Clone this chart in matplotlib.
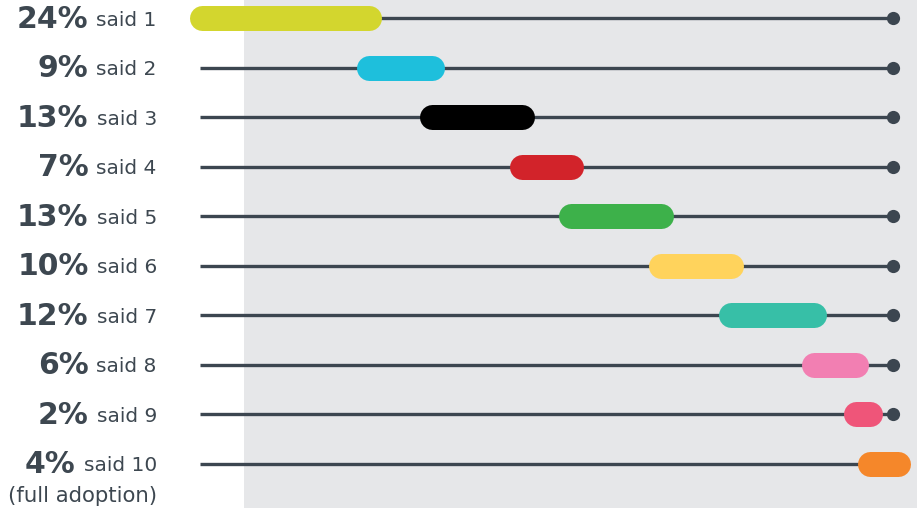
import matplotlib
matplotlib.use("Agg")
import matplotlib.pyplot as plt

# ---- data ----
categories = ["said 1", "said 2", "said 3", "said 4", "said 5",
              "said 6", "said 7", "said 8", "said 9", "said 10"]
percents = [24, 9, 13, 7, 13, 10, 12, 6, 2, 4]
colors = ["#d3d62e", "#1ebfdc", "#000000", "#d2232a", "#3db14a",
          "#ffd35c", "#37bfa7", "#f27fb2", "#ef5579", "#f5872a"]
sub_label = "(full adoption)"

TEXT = "#3d4750"
LINE = "#3c4650"
BG = "#e6e7e9"

W, H, DPI = 917, 508, 100
fig = plt.figure(figsize=(W / DPI, H / DPI), dpi=DPI)
ax = fig.add_axes([0, 0, 1, 1])

px_per_unit = 6.96
x0_px = 202
ax.set_xlim(-x0_px / px_per_unit, (W - x0_px) / px_per_unit)
row_px = 49.5
top_px = 18
ax.set_ylim((H - top_px) / row_px, -top_px / row_px)
ax.axis("off")

# gray panel
ax.axvspan(6, 200, color=BG, zorder=0, lw=0)

line_start, line_end = -0.3, 99.3
bar_lw = 25 * 72 / DPI

cum = 0
for i, (cat, p, c) in enumerate(zip(categories, percents, colors)):
    ax.plot([line_start, line_end], [i, i], color=LINE, lw=2.4,
            solid_capstyle="butt", zorder=1)
    ax.plot([line_end], [i], marker="o", ms=9.5, color=LINE, zorder=1,
            markeredgewidth=0)
    ax.plot([cum, cum + p], [i, i], color=c, lw=bar_lw,
            solid_capstyle="round", zorder=3)
    cum += p

fig.canvas.draw()
renderer = fig.canvas.get_renderer()
label_x = -6.5
for i, (cat, p) in enumerate(zip(categories, percents)):
    t = ax.text(label_x, i + 0.05, cat, ha="right", va="center", fontsize=14.5,
                color=TEXT, family="DejaVu Sans")
    bb = t.get_window_extent(renderer)
    bold_x_px = bb.x0 - 8
    bx = ax.transData.inverted().transform((bold_x_px, 0))[0]
    ax.text(bx, i + 0.03, f"{p}%", ha="right", va="center", fontsize=21.5,
            fontweight="bold", color=TEXT, family="DejaVu Sans")

ax.text(label_x, len(categories) - 1 + 0.66, sub_label, ha="right",
        va="center", fontsize=15.3, color=TEXT, family="DejaVu Sans")

fig.savefig("out.png", dpi=DPI)
